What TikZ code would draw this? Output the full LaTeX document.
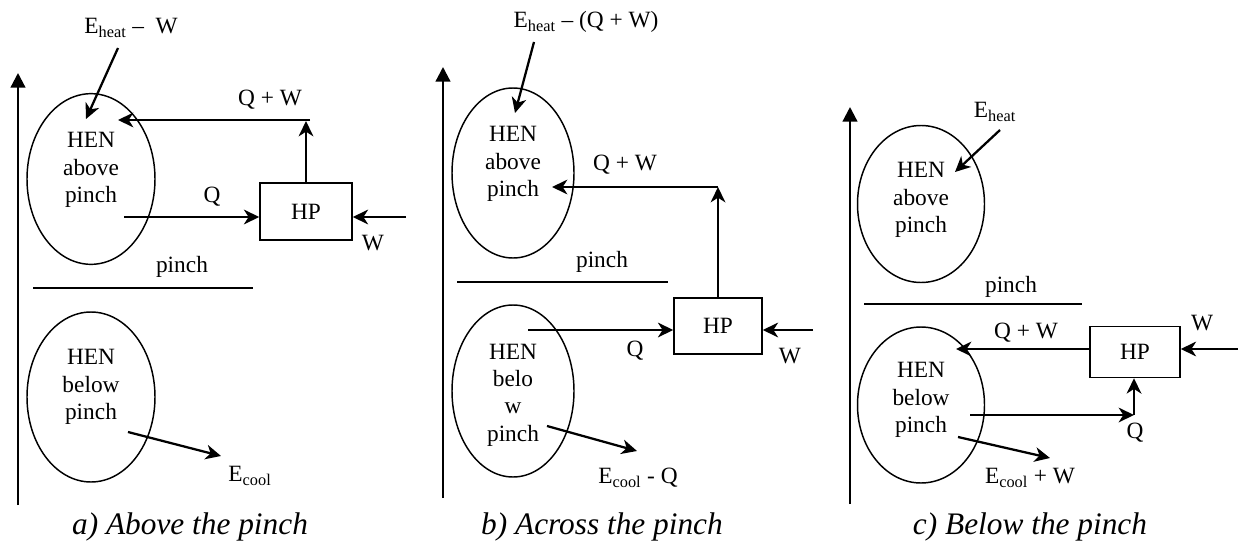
\documentclass[tikz,border=0pt]{standalone}
\usepackage{fontspec}
\setmainfont{Liberation Serif}
\usetikzlibrary{arrows.meta,shapes.geometric}
\begin{document}
\begin{tikzpicture}[x=0.75pt,y=-0.75pt,
  txt/.style={inner sep=0pt,align=center,font=\fontsize{17.5}{20.5}\selectfont},
  captxt/.style={inner sep=0pt,font=\fontsize{23.5}{26}\selectfont\itshape},
  hen/.style={draw,ellipse,line width=1.1pt,inner sep=0pt},
  hpbox/.style={draw,rectangle,line width=1.1pt,inner sep=0pt,font=\fontsize{17.5}{20.5}\selectfont},
  arr/.style={line width=1.7pt,-{Stealth[length=11.5pt,width=11pt,inset=3.5pt]}},
  axis/.style={line width=1.7pt,-{Triangle[length=11pt,width=11pt]}},
  pline/.style={line width=1pt}]
\useasboundingbox (0,0) rectangle (1238,542);

% ---------------- panel a ----------------
\coordinate (aAx0) at (18,505); \coordinate (aAx1) at (18,73);
\draw[axis] (aAx0) -- (aAx1);
\node[hen,minimum width=96pt,minimum height=128pt] (aU) at (91,179) {};
\node[txt] (aUt) at (91,170) {HEN\\above\\pinch};
\node[hen,minimum width=96pt,minimum height=127.5pt] (aL) at (91,397) {};
\node[txt] (aLt) at (91,387) {HEN\\below\\pinch};
\node[hpbox,minimum width=69pt,minimum height=42.75pt] (aHP) at (306,211.5) {HP};
\node[txt] (aEh) at (131,28) {E\textsubscript{heat} –\ \ W};
\coordinate (aEh0) at (118,48); \coordinate (aEh1) at (86,119);
\draw[arr] (aEh0) -- (aEh1);
\coordinate (aV) at (306,121);
\draw[arr] (aHP.north) -- (aV);
\coordinate (aH0) at (310,120); \coordinate (aH1) at (118,120);
\draw[arr] (aH0) -- (aH1);
\node[txt] (aQW) at (270,100) {Q + W};
\coordinate (aQ0) at (124,217);
\draw[arr] (aQ0) -- (aQ0 -| aHP.west);
\node[txt] (aQ) at (212,197) {Q};
\coordinate (aW0) at (406,217);
\draw[arr] (aW0) -- (aW0 -| aHP.east);
\node[txt] (aW) at (373,243) {W};
\node[txt] (aP) at (182,267) {pinch};
\coordinate (aP0) at (33,288); \coordinate (aP1) at (253,288);
\draw[pline] (aP0) -- (aP1);
\coordinate (aC0) at (128,432); \coordinate (aC1) at (221,456);
\draw[arr] (aC0) -- (aC1);
\node[txt] (aEc) at (250,476) {E\textsubscript{cool}};
\node[captxt] (aCap) at (190,527) {a) Above the pinch};

% ---------------- panel b ----------------
\coordinate (bAx0) at (443,498); \coordinate (bAx1) at (443,67);
\draw[axis] (bAx0) -- (bAx1);
\node[hen,minimum width=91.5pt,minimum height=127.5pt] (bU) at (513,173) {};
\node[txt] (bUt) at (513,164) {HEN\\above\\pinch};
\node[hen,minimum width=91.5pt,minimum height=129pt] (bL) at (513,391) {};
\node[txt] (bLt) at (513,395) {HEN\\belo\\w\\pinch};
\node[hpbox,minimum width=66pt,minimum height=42pt] (bHP) at (718,326) {HP};
\node[txt] (bEh) at (586,22) {E\textsubscript{heat} – (Q + W)};
\coordinate (bEh0) at (534,42); \coordinate (bEh1) at (515,113);
\draw[arr] (bEh0) -- (bEh1);
\coordinate (bV) at (718,187);
\draw[arr] (bHP.north) -- (bV);
\coordinate (bH1) at (552,187);
\draw[arr] (bV) -- (bH1);
\node[txt] (bQW) at (625,165) {Q + W};
\coordinate (bQ0) at (528,330);
\draw[arr] (bQ0) -- (bQ0 -| bHP.west);
\node[txt] (bQ) at (635,351) {Q};
\coordinate (bW0) at (813,330);
\draw[arr] (bW0) -- (bW0 -| bHP.east);
\node[txt] (bW) at (790,356) {W};
\node[txt] (bP) at (602,262) {pinch};
\coordinate (bP0) at (457,282); \coordinate (bP1) at (668,282);
\draw[pline] (bP0) -- (bP1);
\coordinate (bC0) at (547,426); \coordinate (bC1) at (637,451);
\draw[arr] (bC0) -- (bC1);
\node[txt] (bEc) at (638,478) {E\textsubscript{cool} - Q};
\node[captxt] (bCap) at (602,527) {b) Across the pinch};

% ---------------- panel c ----------------
\coordinate (cAx0) at (850,504); \coordinate (cAx1) at (850,107);
\draw[axis] (cAx0) -- (cAx1);
\node[hen,minimum width=95.25pt,minimum height=117.75pt] (cU) at (921,204) {};
\node[txt] (cUt) at (921,200) {HEN\\above\\pinch};
\node[hen,minimum width=95.25pt,minimum height=117pt] (cL) at (921,405) {};
\node[txt] (cLt) at (921,400) {HEN\\below\\pinch};
\node[hpbox,minimum width=67.5pt,minimum height=38.25pt] (cHP) at (1135,352) {HP};
\node[txt] (cEh) at (995,112) {E\textsubscript{heat}};
\coordinate (cEh0) at (1000,130); \coordinate (cEh1) at (955,172);
\draw[arr] (cEh0) -- (cEh1);
\node[txt] (cP) at (1011,287) {pinch};
\coordinate (cP0) at (864,304); \coordinate (cP1) at (1082,304);
\draw[pline] (cP0) -- (cP1);
\coordinate (cQW1) at (956,349);
\draw[arr] (cQW1 -| cHP.west) -- (cQW1);
\node[txt] (cQW) at (1026,333) {Q + W};
\coordinate (cW0) at (1238,349);
\draw[arr] (cW0) -- (cW0 -| cHP.east);
\node[txt] (cW) at (1202,323) {W};
\coordinate (cQ0) at (970,415); \coordinate (cQ1) at (1134,415);
\draw[arr] (cQ0) -- (cQ1);
\draw[arr] (cQ1) -- (cQ1 |- cHP.south);
\node[txt] (cQ) at (1135,433) {Q};
\coordinate (cC0) at (958,437); \coordinate (cC1) at (1050,458);
\draw[arr] (cC0) -- (cC1);
\node[txt] (cEc) at (1030,478) {E\textsubscript{cool} + W};
\node[captxt] (cCap) at (1030,527) {c) Below the pinch};
\end{tikzpicture}
\end{document}
